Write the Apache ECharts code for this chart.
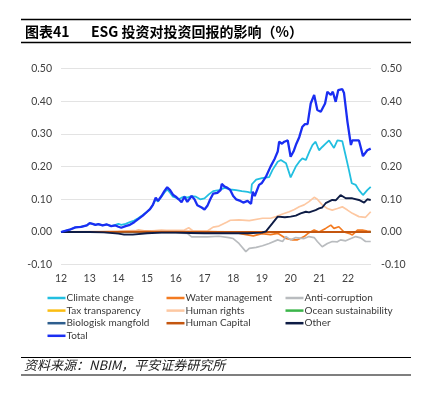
<!DOCTYPE html>
<html><head><meta charset="utf-8">
<script src="https://cdn.jsdelivr.net/npm/echarts@6/dist/echarts.min.js"></script>
<style>html,body{margin:0;padding:0;background:#fff}#c{width:421px;height:398px}</style>
</head><body><div id="c"></div>
<script>
const titleText = '图表41';
const titleMain = 'ESG 投资对投资回报的影响（%）';
const sourceText = '资料来源：NBIM，平安证券研究所';
const xTicks = [12,13,14,15,16,17,18,19,20,21,22];
const yTicks = [-0.1,0,0.1,0.2,0.3,0.4,0.5];
const seriesNames = ['Climate change','Water management','Anti-corruption','Tax transparency','Human rights','Ocean sustainability','Biologisk mangfold','Human Capital','Other','Total'];

const climateChange = [[12.0,0],[12.3,0.007],[12.5,0.014],[12.7,0.016],[12.9,0.02],[13.0,0.027],[13.1,0.025],[13.2,0.022],[13.3,0.024],[13.45,0.02],[13.6,0.023],[13.75,0.018],[13.9,0.022],[14.0,0.025],[14.1,0.022],[14.25,0.025],[14.4,0.03],[14.55,0.035],[14.7,0.043],[14.85,0.052],[15.0,0.062],[15.1,0.07],[15.2,0.082],[15.3,0.1],[15.38,0.093],[15.5,0.108],[15.6,0.12],[15.7,0.13],[15.8,0.12],[15.9,0.108],[16.0,0.105],[16.1,0.1],[16.2,0.105],[16.3,0.108],[16.4,0.105],[16.55,0.11],[16.7,0.108],[16.85,0.1],[17.0,0.103],[17.15,0.115],[17.3,0.125],[17.5,0.128],[17.7,0.135],[17.9,0.13],[18.1,0.128],[18.3,0.125],[18.5,0.123],[18.62,0.12],[18.65,0.146],[18.8,0.16],[19.0,0.165],[19.25,0.168],[19.37,0.19],[19.55,0.215],[19.66,0.22],[19.84,0.21],[20.0,0.167],[20.18,0.2],[20.3,0.215],[20.41,0.225],[20.53,0.22],[20.65,0.245],[20.76,0.266],[20.87,0.276],[20.99,0.25],[21.1,0.26],[21.22,0.27],[21.34,0.28],[21.51,0.257],[21.63,0.28],[21.8,0.278],[21.9,0.24],[22.03,0.19],[22.13,0.149],[22.27,0.144],[22.38,0.128],[22.52,0.113],[22.67,0.128],[22.79,0.138]];
const waterManagement = [[12,0],[14,0],[14.5,0.002],[14.7,0.005],[15,0.003],[15.5,0.004],[16,0.002],[17,0.001],[18,0.0],[18.3,-0.006],[18.7,-0.012],[19.0,-0.005],[19.3,-0.008],[19.55,-0.004],[19.84,-0.02],[20.07,-0.024],[20.24,-0.024],[20.47,-0.014],[20.64,-0.002],[20.82,0.006],[20.99,0.0],[21.22,0.011],[21.4,0.021],[21.51,0.011],[21.68,0.016],[21.86,0.0],[22.03,-0.004],[22.15,-0.009],[22.33,0.006],[22.5,0.006],[22.67,0.003],[22.79,0.002]];
const antiCorruption = [[12,0],[13,0],[14,-0.002],[15,-0.002],[16,-0.003],[16.4,-0.004],[16.55,-0.015],[17.1,-0.015],[17.5,-0.013],[17.85,-0.017],[18.0,-0.02],[18.2,-0.035],[18.44,-0.06],[18.56,-0.05],[18.8,-0.047],[19.02,-0.042],[19.25,-0.035],[19.55,-0.024],[19.72,-0.029],[19.84,-0.014],[20.0,-0.024],[20.18,-0.017],[20.47,-0.02],[20.64,-0.014],[20.82,-0.017],[20.93,-0.029],[21.1,-0.045],[21.28,-0.035],[21.45,-0.029],[21.63,-0.03],[21.74,-0.024],[21.92,-0.027],[22.1,-0.02],[22.27,-0.014],[22.44,-0.018],[22.61,-0.029],[22.79,-0.029]];
const taxTransparency = [[12,0],[16,0],[20,0],[22.5,0],[22.79,0.001]];
const humanRights = [[12,0],[13,0],[14,0.002],[14.5,0.004],[15,0.003],[15.5,0.005],[16,0.005],[16.3,0.006],[16.45,0.013],[16.6,0.003],[17.1,0.003],[17.3,0.015],[17.5,0.018],[17.77,0.03],[17.9,0.036],[18.2,0.037],[18.56,0.035],[19.02,0.042],[19.3,0.042],[19.5,0.047],[19.72,0.055],[19.95,0.062],[20.13,0.069],[20.3,0.077],[20.47,0.083],[20.64,0.093],[20.82,0.106],[20.93,0.1],[21.1,0.083],[21.28,0.072],[21.45,0.067],[21.63,0.072],[21.8,0.077],[21.98,0.067],[22.15,0.057],[22.38,0.047],[22.61,0.045],[22.79,0.062]];
const oceanSustainability = [[12,0],[17,0],[22.79,0]];
const biologiskMangfold = [[12,0],[17,0],[22.79,0]];
const humanCapital = [[12,0],[15,0.001],[18,0],[20,0],[22.79,0]];
const other = [[12,0],[13,0],[13.5,-0.001],[14,-0.005],[14.2,-0.008],[14.5,-0.008],[15,-0.004],[15.5,-0.002],[16,-0.002],[16.5,-0.003],[17,-0.004],[17.5,-0.004],[18,-0.004],[18.5,-0.004],[19,-0.002],[19.14,0.002],[19.37,0.027],[19.55,0.047],[19.8,0.045],[20.0,0.047],[20.18,0.05],[20.35,0.057],[20.53,0.062],[20.64,0.06],[20.87,0.067],[20.99,0.072],[21.1,0.075],[21.22,0.088],[21.45,0.098],[21.57,0.097],[21.74,0.113],[21.92,0.103],[22.15,0.103],[22.38,0.098],[22.56,0.09],[22.67,0.1],[22.79,0.098]];
const total = [[12.0,0],[12.3,0.007],[12.5,0.014],[12.7,0.016],[12.9,0.02],[13.0,0.027],[13.1,0.025],[13.2,0.022],[13.3,0.024],[13.45,0.02],[13.6,0.023],[13.75,0.018],[13.9,0.02],[14.0,0.016],[14.1,0.013],[14.25,0.018],[14.4,0.022],[14.55,0.03],[14.7,0.04],[14.85,0.05],[15.0,0.062],[15.1,0.07],[15.2,0.083],[15.3,0.105],[15.38,0.095],[15.5,0.11],[15.6,0.125],[15.7,0.137],[15.8,0.128],[15.9,0.114],[16.0,0.108],[16.1,0.1],[16.2,0.091],[16.3,0.108],[16.4,0.092],[16.55,0.11],[16.65,0.1],[16.75,0.082],[16.9,0.075],[17.0,0.069],[17.1,0.08],[17.2,0.1],[17.3,0.117],[17.45,0.12],[17.56,0.128],[17.6,0.147],[17.7,0.139],[17.8,0.135],[17.9,0.128],[18.0,0.11],[18.1,0.1],[18.25,0.095],[18.35,0.09],[18.5,0.095],[18.62,0.086],[18.68,0.123],[18.75,0.11],[18.9,0.144],[19.0,0.15],[19.14,0.169],[19.3,0.2],[19.45,0.225],[19.55,0.246],[19.6,0.276],[19.7,0.27],[19.78,0.276],[19.9,0.28],[20.0,0.23],[20.1,0.246],[20.2,0.27],[20.3,0.29],[20.41,0.322],[20.5,0.33],[20.59,0.33],[20.7,0.393],[20.82,0.419],[20.93,0.373],[21.05,0.368],[21.2,0.393],[21.28,0.429],[21.4,0.419],[21.47,0.429],[21.57,0.398],[21.66,0.434],[21.8,0.437],[21.86,0.425],[21.98,0.337],[22.1,0.266],[22.15,0.28],[22.38,0.28],[22.44,0.26],[22.52,0.232],[22.67,0.25],[22.79,0.255]];

const seriesData = [climateChange, waterManagement, antiCorruption, taxTransparency, humanRights, oceanSustainability, biologiskMangfold, humanCapital, other, total];
const colors = ['#22bfe0','#f37b21','#b9bcbf','#fbbd12','#fdc8a2','#3bb54a','#2e5e8e','#c4560f','#0e1c45','#1a2ef2'];
const widths = [1.8,1.7,1.7,1.4,1.7,1.4,1.4,1.9,1.9,2.3];

const chart = echarts.init(document.getElementById('c'), null, {renderer:'canvas'});
const font = 'Lato, "Open Sans", sans-serif';
const legendCols = [[0,3,6,9],[1,4,7],[2,5,8]];
const legendX = [47.5,166.5,285.5];
const option = {
  animation:false,
  backgroundColor:'#fff',
  color: colors,
  grid:{left:61,right:50,top:68.5,bottom:133.3,containLabel:false},
  xAxis:{type:'value',min:12,max:22.8,interval:1,
    axisLine:{show:false},axisTick:{show:false},splitLine:{show:false},
    axisLabel:{color:'#404040',fontSize:10.5,fontFamily:font,margin:8,
      formatter:v=> xTicks.includes(Math.round(v*1000)/1000) ? String(v) : ''}},
  yAxis:[
    {type:'value',min:-0.1,max:0.5,interval:0.1,position:'left',
      axisLine:{show:false},axisTick:{show:false},
      splitLine:{lineStyle:{color:'#e3e3e3',width:1}},
      axisLabel:{color:'#404040',fontSize:10.5,fontFamily:font,margin:9,formatter:v=>v.toFixed(2)}},
    {type:'value',min:-0.1,max:0.5,interval:0.1,position:'right',
      axisLine:{show:false},axisTick:{show:false},splitLine:{show:false},
      axisLabel:{color:'#404040',fontSize:10.5,fontFamily:font,margin:10,formatter:v=>v.toFixed(2)}}
  ],
  legend: legendCols.map((col,i)=>({
    orient:'vertical',left:legendX[i],top:292.5,itemGap:1.6,padding:0,
    itemWidth:18,itemHeight:2.5,icon:'rect',
    textStyle:{color:'#3a3a3a',fontSize:10,fontFamily:font,lineHeight:11,padding:[0,0,0,-4]},
    data: col.map(k=>seriesNames[k])
  })),
  series: seriesNames.map((n,i)=>({
    name:n,type:'line',yAxisIndex:0,data:seriesData[i],symbol:'none',
    lineStyle:{color:colors[i],width:widths[i]},itemStyle:{color:colors[i]},z:2+i
  })),
  graphic:[
    {type:'line',shape:{x1:21,y1:19.5,x2:411,y2:19.5},style:{stroke:'#000',lineWidth:1.3}},
    {type:'line',shape:{x1:21,y1:42.5,x2:411,y2:42.5},style:{stroke:'#000',lineWidth:1.3}},
    {type:'text',left:25,top:24.5,style:{text:titleText,fill:'#000',font:'bold 14px "Noto Sans CJK SC", sans-serif'}},
    {type:'text',left:91,top:24.5,style:{text:titleMain,fill:'#000',font:'bold 14px "Noto Sans CJK SC", sans-serif'}},
    {type:'line',shape:{x1:21,y1:357.5,x2:411,y2:357.5},style:{stroke:'#000',lineWidth:1.1}},
    {type:'line',shape:{x1:21,y1:375,x2:411,y2:375},style:{stroke:'#000',lineWidth:1.1}},
    {type:'text',left:24,top:358.5,style:{text:sourceText,fill:'#222',font:'italic 13px "Noto Sans CJK SC", sans-serif'}}
  ]
};
chart.setOption(option);
</script></body></html>
